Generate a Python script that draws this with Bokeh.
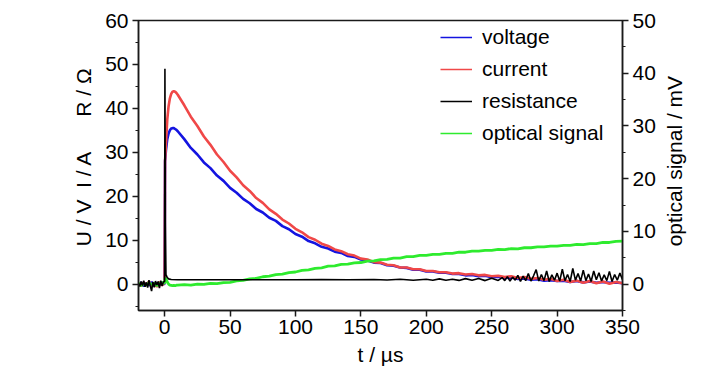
import math
from bokeh.plotting import figure
from bokeh.models import (Range1d, LinearAxis, SingleIntervalTicker,
                          Legend, LegendItem)
from bokeh.embed import file_html
from bokeh.resources import INLINE

# ---------------- data ----------------
t_us = [-20, -18, -16, -14, -12, -10, -8, -6, -4, -2, -0.5,
        0, 0.3, 1, 2, 3, 4, 5, 6, 7, 8, 9,
        10, 15, 20, 25, 30, 35, 40, 45, 50, 55,
        60, 65, 70, 75, 80, 85, 90, 95, 100, 105,
        110, 115, 120, 125, 130, 135, 140, 145, 150, 155,
        160, 165, 170, 175, 180, 185, 190, 195, 200, 205,
        210, 215, 220, 225, 230, 235, 240, 245, 250, 255,
        260, 265, 270, 275, 280, 285, 290, 295, 300, 305,
        310, 315, 320, 325, 330, 335, 340, 345, 350]

voltage_V = [-0.2, 0.4, -0.5, 0.3, -0.3, 0.5, -0.4, 0.2, -0.3, 0.4, -0.1,
             0.3, 28.0, 30.5, 33.0, 34.3, 35.0, 35.4, 35.5, 35.5, 35.3, 35.1,
             34.8, 33.0, 31.0, 29.5, 27.7, 26.4, 24.7, 23.5, 21.9, 20.8,
             19.4, 18.4, 17.1, 16.3, 15.1, 14.4, 13.2, 12.5, 11.4, 10.8,
             9.8, 9.3, 8.5, 8.1, 7.4, 7.1, 6.4, 6.2, 5.6, 5.4,
             4.9, 4.8, 4.3, 4.2, 3.8, 3.7, 3.3, 3.3, 2.9, 2.9,
             2.6, 2.6, 2.3, 2.3, 2.0, 2.1, 1.8, 1.9, 1.6, 1.7,
             1.4, 1.5, 1.2, 1.3, 1.0, 1.1, 0.8, 0.9, 0.7, 0.8,
             0.5, 0.7, 0.4, 0.6, 0.3, 0.5, 0.3, 0.4, 0.2]

current_A = [0.3, -0.5, 0.4, -0.2, 0.6, -0.4, 0.2, -0.6, 0.5, -0.3, 0.2,
             0.5, 28.0, 32.0, 37.5, 40.5, 42.3, 43.3, 43.8, 43.9, 43.8, 43.5,
             43.1, 40.7, 38.1, 36.0, 33.6, 31.7, 29.5, 27.8, 25.8, 24.3,
             22.5, 21.2, 19.6, 18.5, 17.0, 16.0, 14.7, 13.8, 12.6, 11.8,
             10.7, 10.1, 9.2, 8.7, 7.9, 7.5, 6.8, 6.5, 5.8, 5.6,
             5.0, 4.9, 4.4, 4.3, 3.8, 3.8, 3.4, 3.4, 3.0, 3.0,
             2.7, 2.7, 2.4, 2.5, 2.2, 2.3, 2.0, 2.1, 1.8, 1.9,
             1.6, 1.8, 1.4, 1.6, 1.2, 1.4, 1.0, 1.2, 0.7, 1.0,
             0.5, 0.8, 0.3, 0.7, 0.2, 0.6, 0.1, 0.5, 0.2]

optical_mV = [0.2, -0.3, 0.1, -0.2, 0.3, -0.1, 0.2, -0.3, 0.1, 0.3, 0.2,
              0.3, 1.2, 1.0, 0.4, 0.0, -0.2, -0.25, -0.3, -0.25, -0.3, -0.2,
              -0.2, -0.1, -0.2, 0.0, -0.05, 0.15, 0.1, 0.3, 0.35, 0.6,
              0.7, 1.0, 1.1, 1.4, 1.5, 1.8, 1.9, 2.2, 2.3, 2.6,
              2.7, 3.0, 3.1, 3.4, 3.45, 3.75, 3.8, 4.05, 4.1, 4.35,
              4.4, 4.65, 4.7, 4.95, 4.95, 5.2, 5.2, 5.45, 5.45, 5.65,
              5.65, 5.85, 5.85, 6.05, 6.05, 6.25, 6.25, 6.4, 6.4, 6.6,
              6.55, 6.75, 6.7, 6.9, 6.9, 7.05, 7.05, 7.2, 7.2, 7.35,
              7.35, 7.55, 7.5, 7.7, 7.7, 7.9, 7.9, 8.1, 8.15]

t_res_us = [-20, -19, -18, -17, -16, -15, -14, -13, -12, -11,
            -10, -9, -8, -7, -6, -5, -4, -3, -2, -1,
            0, 0.2, 0.5, 1, 1.5, 2, 3, 5, 10, 20,
            40, 60, 80, 100, 120, 140, 160, 170, 180, 190,
            200, 205, 210, 215, 220, 225, 230, 235, 240, 245,
            250, 255,
            258, 260, 262, 264, 266, 268, 270, 272, 274, 276,
            278, 280, 282, 284, 286, 288, 290, 292, 294, 296,
            298, 300, 302, 304, 306, 308, 310, 312, 314, 316,
            318, 320, 322, 324, 326, 328, 330, 332, 334, 336,
            338, 340, 342, 344, 346, 348, 350]

resistance_Ohm = [0.2, -0.5, 0.6, -0.3, 0.8, -0.6, 0.4, -0.8, 0.9, -0.4,
                  -1.6, 0.5, -0.7, 0.7, -0.2, 0.6, -0.9, 0.8, -0.4, 0.5,
                  0.6, 49.0, 14.0, 2.2, 1.8, 1.5, 1.2, 1.05, 1.0, 1.0,
                  1.0, 1.0, 1.0, 1.0, 1.05, 1.0, 1.05, 0.95, 1.1, 0.9,
                  1.1, 0.9, 1.2, 0.9, 1.1, 0.85, 1.25, 0.9, 1.3, 0.8,
                  1.35, 0.85,
                  1.5, 0.8, 1.7, 0.7, 1.6, 0.9, 2.0, 0.6, 1.8, 0.8,
                  2.4, 0.7, 1.9, 3.3, 0.7, 2.2, 0.8, 3.0, 0.6, 2.1,
                  0.9, 2.5, 0.7, 3.4, 0.8, 2.2, 0.6, 3.6, 0.9, 2.4,
                  0.7, 3.2, 0.8, 2.3, 0.6, 3.0, 1.0, 2.6, 0.7, 2.1,
                  0.8, 2.9, 0.6, 2.2, 0.9, 2.5, 1.0]

legend_labels = ["voltage", "current", "resistance", "optical signal"]
x_label = "t / µs"
NB = "\u00a0"
y_label = NB * 3 + "U / V" + NB * 2 + "I / A" + NB * 6 + "R / Ω"
y2_label = "optical signal / mV"

# ---------------- styling ----------------
FONT = "Liberation Sans"
FS = "21px"
C_BLUE = "#1414E0"
C_RED = "#F04848"
C_BLACK = "#000000"
C_GREEN = "#2EEB2E"
AXC = "#1a1a1a"

p = figure(width=720, height=372, output_backend="svg", toolbar_location=None,
           x_range=Range1d(-20, 350), y_range=Range1d(-6, 60),
           min_border_left=138, min_border_right=98,
           min_border_top=20, min_border_bottom=62)
p.extra_y_ranges = {"opt": Range1d(-5, 50)}
p.xgrid.visible = False
p.ygrid.visible = False
p.outline_line_color = AXC
p.outline_line_width = 1.5
p.background_fill_color = "white"
p.border_fill_color = "white"


def style_axis(ax, interval, minors, label, label_standoff):
    ax.ticker = SingleIntervalTicker(interval=interval, num_minor_ticks=max(minors, 1))
    ax.axis_line_color = AXC
    ax.axis_line_width = 1.5
    ax.major_tick_line_color = AXC
    ax.major_tick_line_width = 1.5
    ax.major_tick_in = 0
    ax.major_tick_out = 6
    if minors <= 1:
        ax.minor_tick_line_color = None
    else:
        ax.minor_tick_line_color = AXC
        ax.minor_tick_line_width = 1.2
        ax.minor_tick_in = 0
        ax.minor_tick_out = 3
    ax.major_label_text_font = FONT
    ax.major_label_text_font_size = FS
    ax.major_label_text_color = "black"
    ax.axis_label = label
    ax.axis_label_text_font = FONT
    ax.axis_label_text_font_size = FS
    ax.axis_label_text_font_style = "normal"
    ax.axis_label_text_color = "black"
    ax.axis_label_standoff = label_standoff


style_axis(p.xaxis[0], 50, 0, x_label, 6)
p.xaxis[0].major_label_standoff = 3
style_axis(p.yaxis[0], 10, 2, y_label, 7)
p.yaxis[0].major_label_standoff = 4

right = LinearAxis(y_range_name="opt")
style_axis(right, 10, 2, y2_label, 16)
right.major_label_standoff = 4
props = right.properties()
if "axis_label_orientation" in props:
    # read bottom-to-top like the reference; anchor at the axis start
    right.axis_label_orientation = math.pi / 2
    if "axis_label_align" in props:
        right.axis_label_align = "start"
        right.axis_label = NB * 11 + y2_label
p.add_layout(right, "right")

# ---------------- series ----------------
p.line(t_us, voltage_V, line_color=C_BLUE, line_width=2.6)
p.line(t_us, current_A, line_color=C_RED, line_width=2.6)
p.line(t_us, optical_mV, line_color=C_GREEN, line_width=2.8, y_range_name="opt")
p.line(t_res_us, resistance_Ohm, line_color=C_BLACK, line_width=1.6)

# legend proxies (thin lines, as in the reference legend); one point draws nothing
colors = [C_BLUE, C_RED, C_BLACK, C_GREEN]
items = []
for lab, col in zip(legend_labels, colors):
    r = p.line([-100], [-100], line_color=col, line_width=1.3)
    items.append(LegendItem(label=lab, renderers=[r]))
leg = Legend(items=items, location=(302, 165))
leg.padding = 0
leg.margin = 0
leg.border_line_color = None
leg.background_fill_alpha = 0
leg.glyph_width = 32
leg.glyph_height = 20
leg.label_height = 20
leg.spacing = 8
leg.label_standoff = 10
leg.label_text_font = FONT
leg.label_text_font_size = FS
leg.label_text_color = "black"
p.add_layout(leg)

open("out.html", "w").write(file_html(p, INLINE))
